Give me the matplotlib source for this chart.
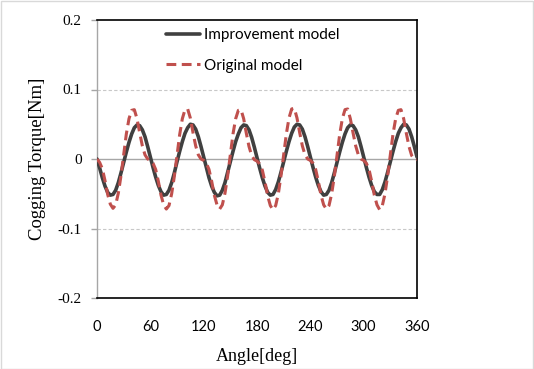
import matplotlib
matplotlib.use("Agg")
import matplotlib.pyplot as plt
from matplotlib.patches import Rectangle

angle_deg = list(range(0, 361, 3))

improvement_model = [
    0.000, -0.013, -0.027, -0.039, -0.048, -0.052, -0.051, -0.045, -0.034, -0.020,
    -0.005, 0.010, 0.024, 0.036, 0.045, 0.049, 0.048, 0.042, 0.032, 0.018,
    0.003, -0.012, -0.026, -0.038, -0.047, -0.052, -0.051, -0.045, -0.034, -0.020,
    -0.004, 0.011, 0.025, 0.037, 0.045, 0.050, 0.049, 0.043, 0.032, 0.018,
    0.003, -0.012, -0.027, -0.039, -0.048, -0.053, -0.052, -0.045, -0.034, -0.019,
    -0.004, 0.011, 0.025, 0.036, 0.045, 0.049, 0.048, 0.042, 0.031, 0.017,
    0.002, -0.013, -0.027, -0.039, -0.048, -0.052, -0.051, -0.044, -0.033, -0.019,
    -0.004, 0.011, 0.025, 0.037, 0.046, 0.050, 0.049, 0.043, 0.032, 0.018,
    0.003, -0.012, -0.026, -0.038, -0.047, -0.052, -0.051, -0.045, -0.034, -0.020,
    -0.005, 0.010, 0.024, 0.036, 0.045, 0.049, 0.048, 0.042, 0.032, 0.018,
    0.003, -0.012, -0.026, -0.038, -0.047, -0.051, -0.051, -0.044, -0.033, -0.019,
    -0.004, 0.011, 0.025, 0.037, 0.045, 0.050, 0.049, 0.043, 0.032, 0.018,
    0.003,
]

original_model = [
    0.000, -0.005, -0.014, -0.031, -0.051, -0.065, -0.071, -0.066, -0.049, -0.024,
    0.006, 0.036, 0.058, 0.070, 0.071, 0.058, 0.038, 0.019, 0.006, 0.000,
    -0.002, -0.006, -0.015, -0.032, -0.052, -0.066, -0.072, -0.067, -0.050, -0.025,
    0.005, 0.035, 0.058, 0.071, 0.072, 0.059, 0.038, 0.019, 0.006, 0.000,
    -0.002, -0.006, -0.015, -0.032, -0.052, -0.066, -0.072, -0.066, -0.049, -0.024,
    0.006, 0.036, 0.058, 0.070, 0.071, 0.058, 0.037, 0.018, 0.005, -0.001,
    -0.003, -0.007, -0.016, -0.033, -0.053, -0.067, -0.073, -0.067, -0.050, -0.024,
    0.006, 0.036, 0.059, 0.072, 0.073, 0.059, 0.038, 0.019, 0.006, 0.000,
    -0.002, -0.006, -0.015, -0.032, -0.052, -0.066, -0.072, -0.067, -0.050, -0.025,
    0.005, 0.035, 0.058, 0.071, 0.072, 0.058, 0.038, 0.019, 0.006, 0.000,
    -0.002, -0.006, -0.015, -0.032, -0.052, -0.066, -0.073, -0.067, -0.050, -0.024,
    0.006, 0.036, 0.058, 0.070, 0.071, 0.058, 0.037, 0.018, 0.005, 0.000,
    -0.001,
]

x_ticks = [0, 60, 120, 180, 240, 300, 360]
y_ticks = [-0.2, -0.1, 0, 0.1, 0.2]
y_tick_labels = ["-0.2", "-0.1", "0", "0.1", "0.2"]

W, H = 534, 369
fig = plt.figure(figsize=(W / 100, H / 100), dpi=100)
fig.patches.append(Rectangle((0.5 / W, 0.5 / H), 1 - 1.5 / W, 1 - 1.5 / H,
                             transform=fig.transFigure, fill=False,
                             edgecolor="#D9D9D9", linewidth=1.0))

ax = fig.add_axes([97 / W, 1 - 298 / H, 320 / W, 278 / H])
ax.set_xlim(0, 360)
ax.set_ylim(-0.2, 0.2)

# gridlines
for v in [0.1, -0.1]:
    ax.axhline(v, color="#C8C8C8", linewidth=0.8, linestyle=(0, (3, 2)), zorder=0)
ax.axhline(0, color="#A6A6A6", linewidth=1.0, zorder=1)

ax.plot(angle_deg, improvement_model, color="#404040", linewidth=2.6,
        solid_capstyle="round", label="Improvement model", zorder=3)
ax.plot(angle_deg, original_model, color="#C0504D", linewidth=2.2,
        linestyle=(0, (3.2, 1.8)), label="Original model", zorder=4)

for s in ["top", "right", "bottom"]:
    ax.spines[s].set_color("black")
    ax.spines[s].set_linewidth(1.2)
ax.spines["left"].set_color("#A6A6A6")
ax.spines["left"].set_linewidth(1.0)

ax.set_xticks(x_ticks)
ax.set_xticklabels([str(t) for t in x_ticks], fontfamily="Lato", fontsize=10.5)
ax.tick_params(axis="x", length=0, pad=16)
ax.set_yticks(y_ticks)
ax.set_yticklabels(y_tick_labels, fontfamily="Liberation Serif", fontsize=11)
ax.tick_params(axis="y", length=4, width=1.0, color="#A6A6A6", pad=7)

ax.set_xlabel("Angle[deg]", fontfamily="Liberation Serif", fontsize=13)
ax.xaxis.set_label_coords(0.5, -(348 - 298) / 278)
ax.set_ylabel("Cogging Torque[Nm]", fontfamily="Liberation Serif", fontsize=13.5)
ax.yaxis.set_label_coords(-(97 - 46) / 320, 0.5)

leg = ax.legend(loc="upper left", bbox_to_anchor=((166 - 97) / 320, 1 - (28 - 20) / 278),
                frameon=False, prop={"family": "Lato", "size": 11},
                handlelength=2.2, handletextpad=0.3, labelspacing=1.1,
                borderaxespad=0, borderpad=0)

fig.savefig("out.png", dpi=100)
